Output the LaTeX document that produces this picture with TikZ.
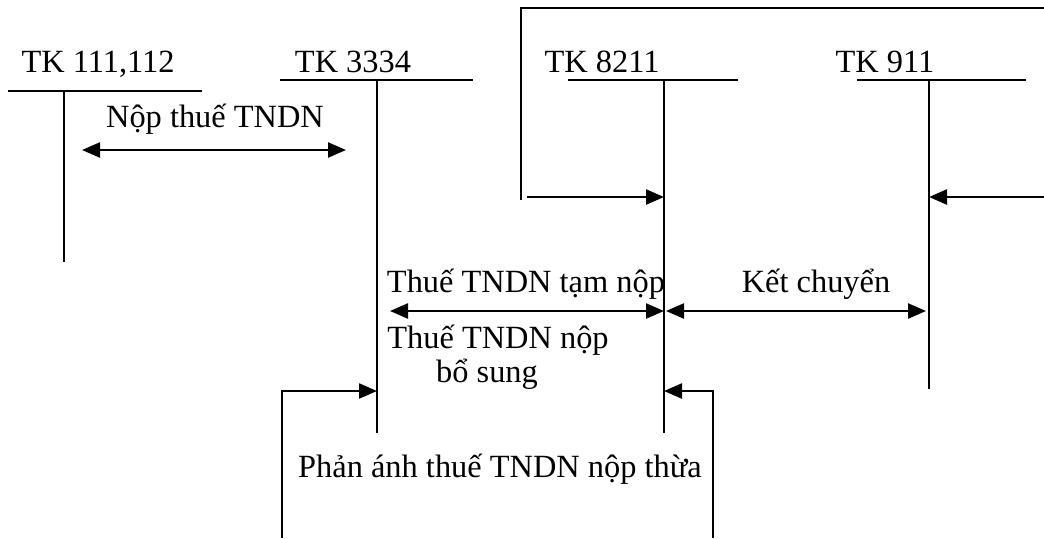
\documentclass[tikz,border=0pt]{standalone}
\usepackage{fontspec}
\setmainfont{Liberation Serif}
\usetikzlibrary{arrows.meta}

\begin{document}
\begin{tikzpicture}[x=0.5pt,y=-0.5pt,>={Triangle[length=9pt,width=7.5pt]},
  font=\fontsize{16.2}{18}\selectfont,line width=1pt,
  lbl/.style={anchor=base,inner sep=0pt},
  flow/.style={line width=1.2pt}]
\useasboundingbox (0,0) rectangle (1044,538);
% account titles
\node[lbl] (t111) at (98,72) {TK 111,112};
\node[lbl] (t3334) at (353,72) {TK 3334};
\node[lbl] (t8211) at (602,72) {TK 8211};
\node[lbl] (t911) at (885,72) {TK 911};
% T-accounts
\coordinate (a111) at (64,91);   \coordinate (b111) at (64,262);
\coordinate (a3334) at (377,80); \coordinate (b3334) at (377,433);
\coordinate (a8211) at (664,80); \coordinate (b8211) at (664,433);
\coordinate (a911) at (929,80);  \coordinate (b911) at (929,389);
\draw (8,91) -- (202,91);    \draw (a111) -- (b111);
\draw (280,80) -- (473,80);  \draw (a3334) -- (b3334);
\draw (568,80) -- (738,80);  \draw (a8211) -- (b8211);
\draw (857,80) -- (1026,80); \draw (a911) -- (b911);
% labels
\node[lbl] (nop) at (215,127) {Nộp thuế TNDN};
\node[lbl] (tam) at (526,292) {Thuế TNDN tạm nộp};
\node[lbl] (ket) at (816,292) {Kết chuyển};
\node[lbl] (bs1) at (498,348) {Thuế TNDN nộp};
\node[lbl] (bs2) at (487,382) {bổ sung};
\node[lbl] (thua) at (500,477) {Phản ánh thuế TNDN nộp thừa};
% flows
\coordinate (p1) at (82,150); \coordinate (p2) at (346,150);
\draw[flow,<->] (p1) -- (p2);
\coordinate (q1) at (390,311); \coordinate (q2) at (666,311);
\coordinate (q3) at (926,311);
\draw[flow,<->] (q1) -- (q1 -| a8211);
\draw[flow,<->] (q2) -- (q3);
% closing bracket
\coordinate (k1) at (521,200); \coordinate (k2) at (521,8);
\coordinate (k3) at (1044,8);
\draw[flow] (k1) -- (k2) -- (k3);
\coordinate (k4) at (527,197); \coordinate (k5) at (1044,197);
\draw[flow,->] (k4) -- (k4 -| a8211);
\draw[flow,->] (k5) -- (k5 -| a911);
% over-payment brackets
\coordinate (m1) at (282,538); \coordinate (m2) at (282,391);
\coordinate (r1) at (713,538); \coordinate (r2) at (713,391);
\draw[flow,->] (m1) -- (m2) -- (m2 -| a3334);
\draw[flow,->] (r1) -- (r2) -- (r2 -| a8211);
\end{tikzpicture}
\end{document}
